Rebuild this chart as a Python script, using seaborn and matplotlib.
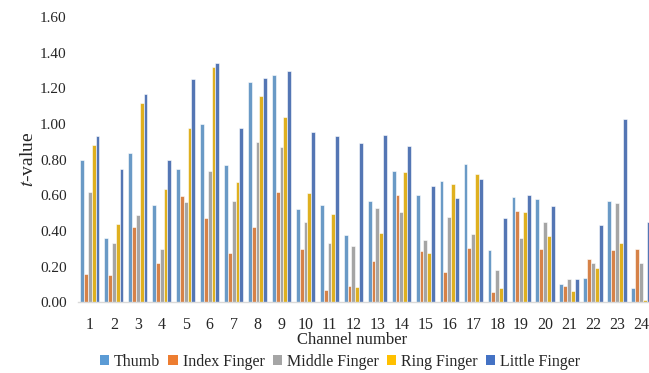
import numpy as np
import pandas as pd
import matplotlib
matplotlib.use("Agg")
import matplotlib.pyplot as plt
from matplotlib.patches import Patch
import seaborn as sns

channels = [str(i) for i in range(1, 25)]
fingers = ["Thumb", "Index Finger", "Middle Finger", "Ring Finger", "Little Finger"]

thumb = [0.80, 0.36, 0.84, 0.545, 0.75, 1.00, 0.77, 1.235, 1.275, 0.525, 0.545, 0.375,
         0.57, 0.735, 0.60, 0.68, 0.775, 0.29, 0.59, 0.58, 0.10, 0.135, 0.57, 0.08]
index_finger = [0.16, 0.15, 0.42, 0.22, 0.595, 0.47, 0.275, 0.42, 0.62, 0.30, 0.07, 0.09,
                0.23, 0.60, 0.285, 0.17, 0.305, 0.055, 0.51, 0.30, 0.09, 0.24, 0.29, 0.30]
middle_finger = [0.62, 0.33, 0.49, 0.30, 0.56, 0.735, 0.57, 0.90, 0.87, 0.45, 0.33, 0.315,
                 0.53, 0.505, 0.35, 0.48, 0.38, 0.18, 0.36, 0.45, 0.13, 0.22, 0.555, 0.22]
ring_finger = [0.88, 0.44, 1.12, 0.635, 0.98, 1.32, 0.675, 1.16, 1.04, 0.61, 0.495, 0.085,
               0.39, 0.73, 0.275, 0.665, 0.72, 0.08, 0.505, 0.37, 0.06, 0.19, 0.33, 0.01]
little_finger = [0.93, 0.75, 1.17, 0.80, 1.25, 1.34, 0.975, 1.26, 1.30, 0.955, 0.93, 0.895,
                 0.94, 0.875, 0.65, 0.585, 0.69, 0.47, 0.60, 0.54, 0.13, 0.435, 1.03, 0.45]

colors = ["#5B9BD5", "#ED7D31", "#A5A5A5", "#FFC000", "#4472C4"]
yticks = [0.0, 0.2, 0.4, 0.6, 0.8, 1.0, 1.2, 1.4, 1.6]

series = [thumb, index_finger, middle_finger, ring_finger, little_finger]
df = pd.DataFrame({
    "channel": channels * len(fingers),
    "finger": np.repeat(fingers, len(channels)),
    "t": np.concatenate(series),
})

sns.set_style("white")
plt.rcParams["font.family"] = ["Liberation Serif", "DejaVu Serif"]
plt.rcParams["mathtext.fontset"] = "stix"

fig = plt.figure(figsize=(6.49, 3.73), dpi=100)
ax = fig.add_axes([0.120, 0.190, 1.006 - 0.120, 0.954 - 0.190])

sns.barplot(data=df, x="channel", y="t", hue="finger", order=channels,
            hue_order=fingers, palette=colors, width=0.8, ax=ax,
            edgecolor="white", linewidth=0.4, legend=False, errorbar=None)

ax.set_ylim(0, 1.6)
ax.set_xlim(-0.5, 23.5)
ax.set_yticks(yticks)
ax.set_yticklabels([f"{v:.2f}" for v in yticks], fontsize=11)
ax.tick_params(axis="x", labelsize=11.5, length=0, pad=11)
ax.tick_params(axis="y", length=0, pad=8)

for side in ["top", "right", "left"]:
    ax.spines[side].set_visible(False)
ax.spines["bottom"].set_color("#D9D9D9")
ax.spines["bottom"].set_linewidth(1.0)

ax.set_xlabel("")
ax.set_ylabel(r"$\mathit{t}$-value", fontsize=14, labelpad=2)
fig.text(0.543, 0.088, "Channel number", ha="center", va="center", fontsize=12)

handles = [Patch(facecolor=c, edgecolor="none") for c in colors]
fig.legend(handles, fingers, loc="center", bbox_to_anchor=(0.524, 0.030),
           ncol=5, frameon=False, fontsize=11.5, handlelength=0.6, handleheight=0.6,
           handletextpad=0.3, columnspacing=0.5, borderpad=0)

fig.savefig("out.png", dpi=100)
